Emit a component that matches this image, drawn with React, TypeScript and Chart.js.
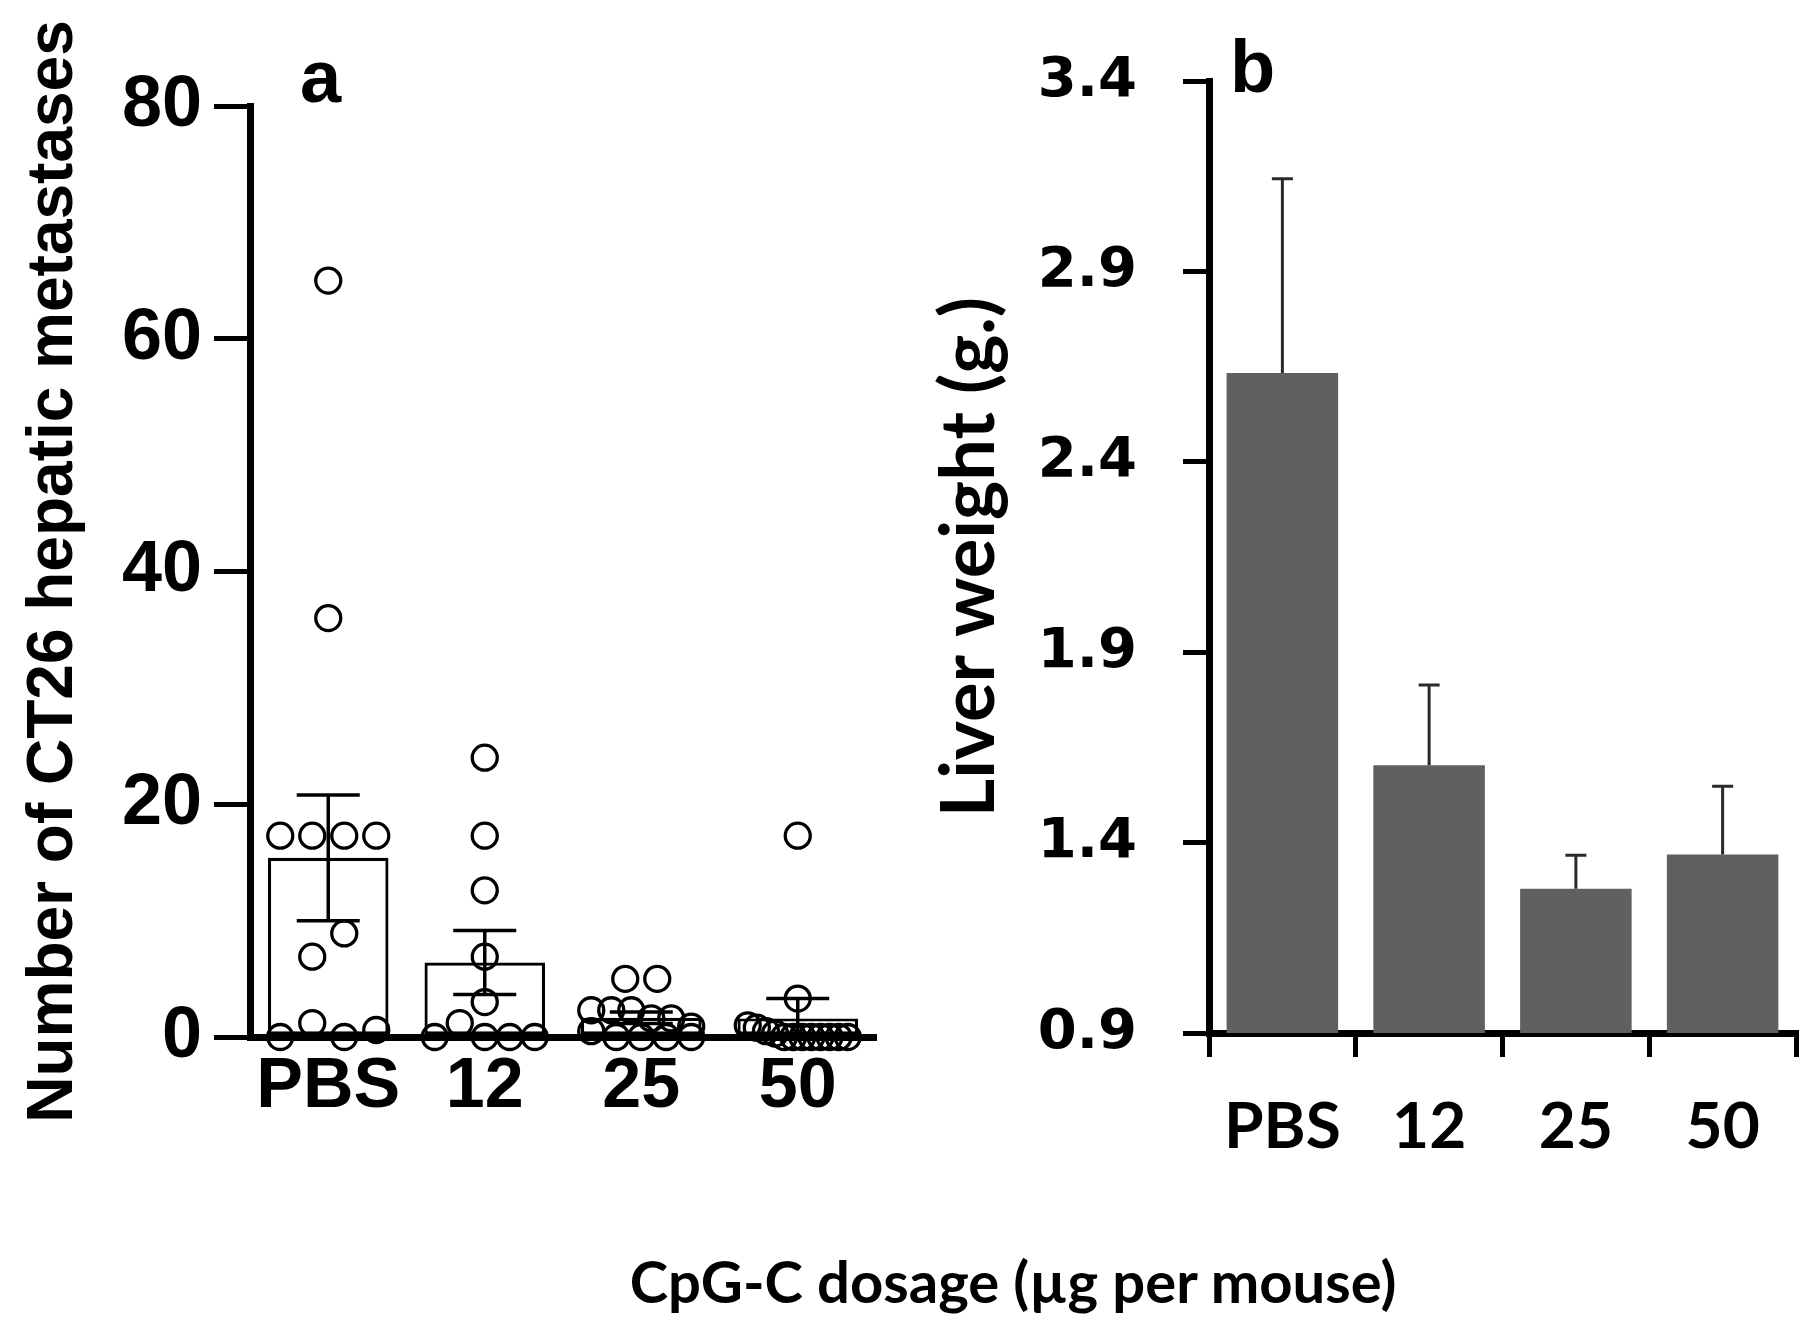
import React, { useEffect, useRef } from "react";
import { Chart, registerables } from "chart.js";

Chart.register(...registerables);

// ---------- data ----------
const categories = ["PBS", "12", "25", "50"];

// panel a: individual counts of CT26 hepatic metastases per mouse
const metPBS = [65, 36, 17.3, 17.3, 17.3, 17.3, 8.9, 6.9, 0, 1.2, 0, 0.6];
const met12 = [24, 17.3, 12.6, 6.9, 3.0, 0, 1.2, 0, 0, 0];
const met25 = [5, 5, 2.3, 2.3, 2.3, 1.6, 1.6, 0.9, 0.5, 0, 0, 0, 0];
const met50 = [17.3, 3.3, 1, 0.8, 0.5, 0.3, 0, 0, 0, 0, 0, 0, 0, 0];
const metMean = [15.4, 6.4, 1.65, 1.6];
const metSem = [5.4, 2.75, 0.5, 1.7];
const metTicks = [0, 20, 40, 60, 80];

// panel b: liver weight (g.)
const liverMean = [2.633, 1.603, 1.279, 1.369];
const liverSem = [0.51, 0.211, 0.088, 0.179];
const liverTicks = [0.9, 1.4, 1.9, 2.4, 2.9, 3.4];

const titleA = "Number of CT26 hepatic metastases";
const titleB = "Liver weight (g.)";
const caption = "CpG-C dosage (µg per mouse)";

// ---------- layout constants ----------
const CW = 900;
const CH = 1200;
const A_LEFT = 250;
const A_TOP = 106;
const A_RIGHT = 876;
const A_BOTTOM = 1037;
const B_LEFT = 309;
const B_TOP = 81;
const B_RIGHT = 896;
const B_BOTTOM = 1033;

const ARIAL = "'Liberation Sans', Arial, sans-serif";
const LATO = "Lato, 'Open Sans', sans-serif";
const DEJAVU = "'DejaVu Sans', Verdana, sans-serif";

// spread points of one group horizontally (column scatter)
function swarm(values: number[], group: number, pxPerUnit: number, pxPerCat: number) {
  const D = 32;
  const maxSpan = 100;
  const rowTol = 1.5;
  const idx = values.map((_, i) => i).sort((a, b) => values[b] - values[a] || a - b);
  const rows: number[][] = [];
  for (const i of idx) {
    const r = rows[rows.length - 1];
    if (r && values[r[0]] - values[i] <= rowTol) r.push(i);
    else rows.push([i]);
  }
  const off = new Array(values.length).fill(0);
  rows.forEach((r) => {
    r.sort((a, b) => a - b);
    const n = r.length;
    const s = n > 1 ? Math.min(D, maxSpan / (n - 1)) : 0;
    r.forEach((i, k) => {
      off[i] = (k - (n - 1) / 2) * s;
    });
  });
  for (let k = 1; k < rows.length; k++) {
    const a = rows[k - 1];
    const b = rows[k];
    if (a.length === 1 && b.length === 1 && (values[a[0]] - values[b[0]]) * pxPerUnit < D && off[a[0]] === 0) {
      off[a[0]] = D / 2;
      off[b[0]] = -D / 2;
    }
  }
  return values.map((v, i) => ({ x: group + off[i] / pxPerCat, y: v }));
}

function ChartA() {
  const ref = useRef<HTMLCanvasElement | null>(null);
  useEffect(() => {
    const canvas = ref.current;
    if (!canvas) return;
    const pxPerUnit = (A_BOTTOM - A_TOP) / 80;
    const pxPerCat = (A_RIGHT - A_LEFT) / categories.length;
    const groups = [metPBS, met12, met25, met50];
    const points = groups.flatMap((g, gi) => swarm(g, gi, pxPerUnit, pxPerCat));

    const errorBars = {
      id: "errA",
      afterDatasetsDraw(chart: any) {
        const { ctx } = chart;
        const x = chart.scales.x;
        const y = chart.scales.y;
        ctx.save();
        ctx.strokeStyle = "#000";
        ctx.lineWidth = 3.5;
        metMean.forEach((m, i) => {
          const cx = x.getPixelForValue(i);
          const top = y.getPixelForValue(m + metSem[i]);
          const bot = y.getPixelForValue(Math.max(0, m - metSem[i]));
          ctx.beginPath();
          ctx.moveTo(cx, top);
          ctx.lineTo(cx, bot);
          ctx.moveTo(cx - 31.5, top);
          ctx.lineTo(cx + 31.5, top);
          ctx.moveTo(cx - 31.5, bot);
          ctx.lineTo(cx + 31.5, bot);
          ctx.stroke();
        });
        ctx.restore();
      },
    };

    const chart = new Chart(canvas, {
      type: "bar",
      data: {
        labels: categories,
        datasets: [
          {
            type: "scatter",
            data: points,
            xAxisID: "xs",
            yAxisID: "y",
            showLine: false,
            pointRadius: 12.5,
            pointBorderWidth: 3.3,
            pointBorderColor: "#000",
            pointBackgroundColor: "rgba(0,0,0,0)",
            clip: false,
            order: 0,
          } as any,
          {
            type: "bar",
            data: metMean,
            xAxisID: "x",
            yAxisID: "y",
            backgroundColor: "#fff",
            borderColor: "#000",
            borderWidth: 3.2,
            borderSkipped: false,
            grouped: false,
            barPercentage: 0.77,
            categoryPercentage: 1,
            order: 1,
          } as any,
        ],
      },
      options: {
        responsive: false,
        animation: false,
        devicePixelRatio: 1,
        layout: { padding: { top: A_TOP, left: 0, right: CW - A_RIGHT, bottom: 0 } },
        plugins: { legend: { display: false }, tooltip: { enabled: false } },
        scales: {
          x: {
            type: "category",
            offset: true,
            grid: { display: false, drawTicks: false },
            border: { display: true, width: 7, color: "#000" },
            ticks: { color: "#000", padding: 9, font: { family: ARIAL, size: 70, weight: "bold" } },
            afterFit: (s: any) => {
              s.height = CH - A_BOTTOM;
            },
          },
          xs: {
            type: "linear",
            display: false,
            offset: false,
            grid: { offset: false },
            min: -0.5,
            max: 3.5,
          },
          y: {
            type: "linear",
            min: 0,
            max: 80,
            afterBuildTicks: (s: any) => {
              s.ticks = metTicks.map((v) => ({ value: v }));
            },
            grid: { display: true, drawOnChartArea: false, drawTicks: true, tickLength: 36, lineWidth: 5, color: "#000" },
            border: { display: true, width: 7, color: "#000" },
            ticks: { color: "#000", padding: 12, font: { family: ARIAL, size: 72, weight: "bold" } },
            title: {
              display: true,
              text: titleA,
              color: "#000",
              padding: { top: 15.6, bottom: 0 },
              font: { family: ARIAL, size: 64, weight: "bold" },
            },
            afterFit: (s: any) => {
              s.width = A_LEFT;
            },
          },
        },
      },
      plugins: [errorBars],
    } as any);
    return () => chart.destroy();
  }, []);
  return (
    <canvas
      ref={ref}
      width={CW}
      height={CH}
      style={{ position: "absolute", left: 0, top: 0, width: CW, height: CH }}
    />
  );
}

function ChartB() {
  const ref = useRef<HTMLCanvasElement | null>(null);
  useEffect(() => {
    const canvas = ref.current;
    if (!canvas) return;
    const errorBars = {
      id: "errB",
      afterDatasetsDraw(chart: any) {
        const { ctx } = chart;
        const x = chart.scales.x;
        const y = chart.scales.y;
        ctx.save();
        ctx.strokeStyle = "#2a2a2a";
        ctx.lineWidth = 3;
        liverMean.forEach((m, i) => {
          const cx = x.getPixelForValue(i);
          const top = y.getPixelForValue(m + liverSem[i]);
          const base = y.getPixelForValue(m);
          ctx.beginPath();
          ctx.moveTo(cx, base);
          ctx.lineTo(cx, top);
          ctx.moveTo(cx - 10.5, top);
          ctx.lineTo(cx + 10.5, top);
          ctx.stroke();
        });
        ctx.restore();
      },
    };
    const chart = new Chart(canvas, {
      type: "bar",
      data: {
        labels: categories,
        datasets: [
          {
            data: liverMean,
            backgroundColor: "#606060",
            borderWidth: 0,
            barPercentage: 0.76,
            categoryPercentage: 1,
          },
        ],
      },
      options: {
        responsive: false,
        animation: false,
        devicePixelRatio: 1,
        layout: { padding: { top: B_TOP, left: 0, right: CW - B_RIGHT, bottom: 0 } },
        plugins: { legend: { display: false }, tooltip: { enabled: false } },
        scales: {
          x: {
            type: "category",
            offset: true,
            grid: { display: true, offset: true, drawOnChartArea: false, drawTicks: true, tickLength: 24, lineWidth: 5, color: "#000" },
            border: { display: true, width: 7, color: "#000" },
            ticks: { color: "#000", padding: 32, font: { family: LATO, size: 64, weight: "bold" } },
            afterFit: (s: any) => {
              s.height = CH - B_BOTTOM;
            },
          },
          y: {
            type: "linear",
            min: 0.9,
            max: 3.4,
            afterBuildTicks: (s: any) => {
              s.ticks = liverTicks.map((v) => ({ value: v }));
            },
            grid: { display: true, drawOnChartArea: false, drawTicks: true, tickLength: 26, lineWidth: 5, color: "#000" },
            border: { display: true, width: 7, color: "#000" },
            ticks: {
              color: "#000",
              padding: 46,
              font: { family: DEJAVU, size: 56, weight: "bold" },
              callback: (v: any) => Number(v).toFixed(1),
            },
            title: {
              display: true,
              text: titleB,
              color: "#000",
              padding: { top: 25.6, bottom: 0 },
              font: { family: LATO, size: 74, weight: "bold" },
            },
            afterFit: (s: any) => {
              s.width = B_LEFT;
            },
          },
        },
      },
      plugins: [errorBars],
    } as any);
    return () => chart.destroy();
  }, []);
  return (
    <canvas
      ref={ref}
      width={CW}
      height={CH}
      style={{ position: "absolute", left: CW, top: 0, width: CW, height: CH }}
    />
  );
}

export default function App() {
  return (
    <div
      style={{
        position: "fixed",
        left: 0,
        top: 0,
        width: 1800,
        height: 1325,
        background: "#fff",
        overflow: "hidden",
      }}
    >
      <ChartA />
      <ChartB />
      <div
        style={{
          position: "absolute",
          left: 300,
          top: 40,
          fontFamily: ARIAL,
          fontWeight: "bold",
          fontSize: 74,
          lineHeight: "74px",
          color: "#000",
        }}
      >
        a
      </div>
      <div
        style={{
          position: "absolute",
          left: 1230,
          top: 30,
          fontFamily: ARIAL,
          fontWeight: "bold",
          fontSize: 74,
          lineHeight: "74px",
          color: "#000",
        }}
      >
        b
      </div>
      <div
        style={{
          position: "absolute",
          left: 0,
          width: 2026,
          top: 1252,
          textAlign: "center",
          fontFamily: LATO,
          fontWeight: "bold",
          fontSize: 58,
          lineHeight: "58px",
          color: "#000",
          whiteSpace: "nowrap",
        }}
      >
        {caption}
      </div>
    </div>
  );
}
